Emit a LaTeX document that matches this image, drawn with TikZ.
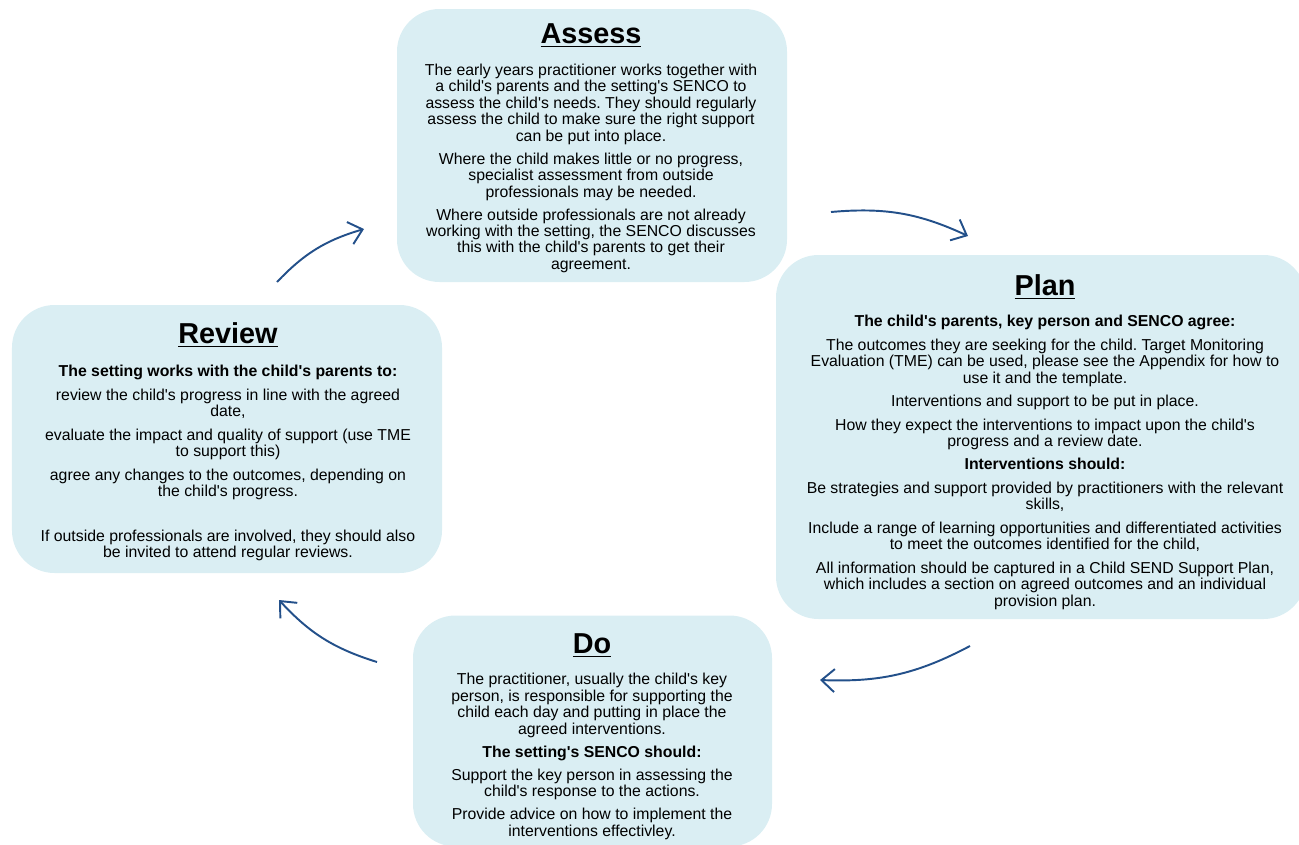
\documentclass[tikz,border=0pt]{standalone}
\usepackage{fontspec}
\setmainfont{Liberation Sans}[Ligatures=TeXOff]
\usetikzlibrary{arrows.meta}
\definecolor{boxfill}{HTML}{DAEEF3}
\definecolor{cyclearr}{HTML}{23508A}
\frenchspacing
\begin{document}
\begin{tikzpicture}[
  stage/.style={fill=boxfill, draw=none, rectangle, rounded corners=0.85cm},
  stagetitle/.style={inner sep=0pt, font=\fontsize{16.4}{18}\selectfont\bfseries},
  stagetext/.style={inner sep=0pt, anchor=north, align=center,
                    font=\fontsize{9}{9.35}\selectfont},
  cyclearrow/.style={-{Straight Barb[length=2.6mm, width=4.6mm, line width=1.1pt]},
                     line width=1.1pt, cyclearr}
]
\useasboundingbox (0,0) rectangle (25.98,-16.88);

\node[stage, minimum width=7.8cm, minimum height=5.46cm] (assess) at (11.84,-2.91) {};
\node[stage, minimum width=10.6cm, minimum height=7.28cm] (plan) at (20.82,-8.74) {};
\node[stage, minimum width=8.6cm, minimum height=5.36cm] (review) at (4.54,-8.78) {};
\node[stage, minimum width=7.18cm, minimum height=4.62cm] (do) at (11.85,-14.62) {};

\node[stagetitle] (assesst) at (11.82,-0.71) {\underline{Assess}};
\node[stagetext] (assessb) at (11.82,-1.27) {%
  The early years practitioner works together with\\
  a child's parents and the setting's SENCO to\\
  assess the child's needs. They should regularly\\
  assess the child to make sure the right support\\
  can be put into place.\\[3.8pt]
  Where the child makes little or no progress,\\
  specialist assessment from outside\\
  professionals may be needed.\\[3.8pt]
  Where outside professionals are not already\\
  working with the setting, the SENCO discusses\\
  this with the child's parents to get their\\
  agreement.};

\node[stagetitle] (plant) at (20.9,-5.74) {\underline{Plan}};
\node[stagetext] (planb) at (20.9,-6.30) {%
  \textbf{The child's parents, key person and SENCO agree:}\\[4pt]
  The outcomes they are seeking for the child. Target Monitoring\\
  Evaluation (TME) can be used, please see the Appendix for how to\\
  use it and the template.\\[4pt]
  Interventions and support to be put in place.\\[4pt]
  How they expect the interventions to impact upon the child's\\
  progress and a review date.\\[4pt]
  \textbf{Interventions should:}\\[4pt]
  Be strategies and support provided by practitioners with the relevant\\
  skills,\\[4pt]
  Include a range of learning opportunities and differentiated activities\\
  to meet the outcomes identified for the child,\\[4pt]
  All information should be captured in a Child SEND Support Plan,\\
  which includes a section on agreed outcomes and an individual\\
  provision plan.};

\node[stagetitle] (reviewt) at (4.56,-6.70) {\underline{Review}};
\node[stagetext] (reviewb) at (4.56,-7.30) {%
  \textbf{The setting works with the child's parents to:}\\[4pt]
  review the child's progress in line with the agreed\\
  date,\\[4pt]
  evaluate the impact and quality of support (use TME\\
  to support this)\\[4pt]
  agree any changes to the outcomes, depending on\\
  the child's progress.\\[16pt]
  If outside professionals are involved, they should also\\
  be invited to attend regular reviews.};

\node[stagetitle] (dot) at (11.84,-12.91) {\underline{Do}};
\node[stagetext] (dob) at (11.84,-13.46) {%
  The practitioner, usually the child's key\\
  person, is responsible for supporting the\\
  child each day and putting in place the\\
  agreed interventions.\\[3.8pt]
  \textbf{The setting's SENCO should:}\\[3.8pt]
  Support the key person in assessing the\\
  child's response to the actions.\\[3.8pt]
  Provide advice on how to implement the\\
  interventions effectivley.};

% arrow ends between the boxes
\coordinate (ra1) at (5.54,-5.64);
\coordinate (ra2) at (7.28,-4.58);
\coordinate (ap1) at (16.62,-4.24);
\coordinate (ap2) at (19.36,-4.72);
\coordinate (pd1) at (19.40,-12.92);
\coordinate (pd2) at (16.40,-13.60);
\coordinate (dr1) at (7.54,-13.24);
\coordinate (dr2) at (5.58,-12.00);

\draw[cyclearrow] (ra1) to[bend left=15] (ra2);
\draw[cyclearrow] (ap1) to[bend left=15] (ap2);
\draw[cyclearrow] (pd1) to[bend left=15] (pd2);
\draw[cyclearrow] (dr1) to[bend left=15] (dr2);
\end{tikzpicture}
\end{document}
